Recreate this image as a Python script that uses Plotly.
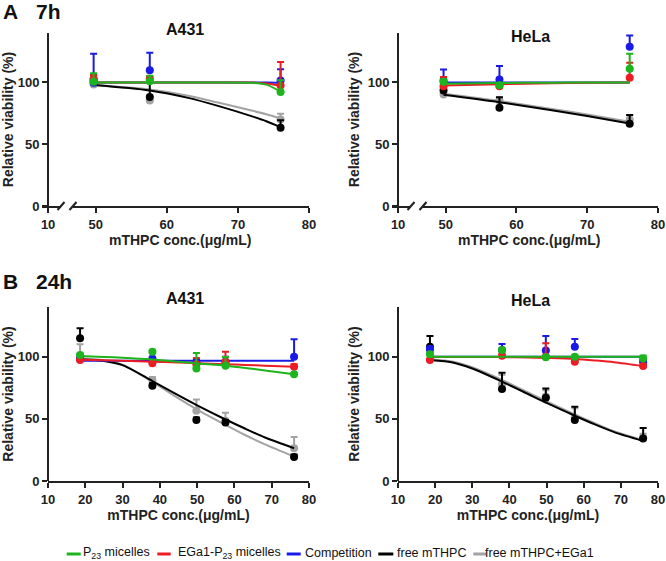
import plotly.graph_objects as go

FIG_W, FIG_H = 666, 561
FONT = "Liberation Sans, Arial, sans-serif"
AXIS_COLOR = "#222222"

series_names = ["P<sub>23</sub> micelles", "EGa1-P<sub>23</sub> micelles", "Competition",
                "free mTHPC", "free mTHPC+EGa1"]
series_colors = ["#1DB41D", "#EC1C24", "#1A1AE6", "#000000", "#A3A3A3"]
draw_order = [4, 3, 2, 1, 0]

x_ticks_7h = [50, 60, 70, 80]
x_ticks_24h = [10, 20, 30, 40, 50, 60, 70, 80]
y_ticks = [0, 50, 100]

x_7h = [49.7, 57.6, 76.0]
x_24h = [18.6, 38.0, 49.8, 57.6, 76.0]

# series order: P23, EGa1-P23, Competition, free mTHPC, free mTHPC+EGa1
a431_7h_mean = [[100.5, 101.0, 92.2], [103.0, 103.0, 97.5], [99.8, 109.8, 101.6],
                [102.0, 88.2, 63.3], [98.4, 85.4, 70.0]]
a431_7h_err = [[7.0, 4.5, 9.5], [3.0, 2.0, 19.0], [23.5, 14.2, 9.0],
               [4.0, 11.6, 6.0], [3.0, 3.0, 4.6]]
a431_7h_fit_x = [49.7, 57.6, 63.0, 67.2, 71.9, 74.0, 76.0]
a431_7h_fit = [[100.0, 100.0, 100.0, 100.0, 99.7, 98.2, 92.5],
               [100.0, 100.0, 100.0, 100.0, 99.9, 99.2, 97.3],
               [100.0, 100.0, 100.0, 100.0, 100.0, 100.0, 99.8],
               [97.9, 93.5, 87.5, 81.0, 72.7, 68.6, 63.8],
               [97.9, 94.3, 89.3, 83.7, 77.3, 74.2, 70.8]]

hela_7h_mean = [[100.6, 97.8, 111.0], [97.0, 97.0, 103.8], [101.6, 102.4, 128.9],
                [93.5, 79.5, 66.6], [90.3, 85.4, 70.1]]
hela_7h_err = [[2.0, 2.0, 12.2], [7.3, 1.5, 12.2], [8.9, 10.8, 9.1],
               [2.0, 8.6, 7.0], [2.0, 2.5, 3.5]]
hela_7h_fit_x = [49.7, 57.6, 65.0, 70.0, 76.0]
hela_7h_fit = [[99.0, 99.5, 99.8, 99.9, 100.0],
               [97.5, 98.5, 99.3, 99.7, 100.0],
               [100.0, 100.0, 100.0, 100.0, 100.0],
               [90.0, 84.0, 77.5, 72.8, 66.8],
               [90.8, 85.0, 78.6, 74.0, 68.2]]

a431_24h_mean = [[101.4, 104.0, 90.6, 92.7, 85.8], [97.3, 94.7, 94.0, 96.0, 92.0],
                 [98.6, 98.6, 95.5, 96.0, 100.0], [114.8, 76.6, 49.0, 47.0, 19.4],
                 [101.0, 81.2, 56.5, 48.5, 26.4]]
a431_24h_err = [[1.0, 1.0, 12.4, 7.0, 1.0], [1.0, 1.0, 5.0, 8.0, 2.0],
                [1.0, 1.0, 2.0, 4.0, 14.0], [8.1, 2.0, 2.0, 2.0, 2.0],
                [9.0, 2.5, 9.1, 6.5, 9.1]]
fit_x_24h = [18.6, 25.0, 30.0, 38.0, 45.0, 50.0, 57.6, 63.0, 68.2, 76.0]
a431_24h_fit = [[100.6, 99.8, 99.2, 97.8, 96.0, 94.6, 92.8, 91.0, 89.0, 85.8],
                [97.5, 97.2, 96.8, 96.0, 95.3, 94.8, 94.0, 93.4, 92.8, 92.0],
                [96.8, 96.8, 96.8, 96.8, 96.8, 96.8, 96.8, 96.8, 96.8, 96.8],
                [97.9, 96.6, 93.2, 80.4, 68.8, 60.8, 49.5, 42.0, 35.0, 26.4],
                [98.5, 97.2, 93.5, 79.8, 66.5, 57.5, 45.2, 36.8, 29.5, 19.8]]

hela_24h_mean = [[101.9, 105.4, 99.5, 100.0, 98.5], [97.3, 100.8, 100.0, 96.0, 92.5],
                 [106.2, 105.4, 105.0, 108.0, 96.0], [108.0, 74.0, 67.0, 49.0, 34.2],
                 [104.0, 78.0, 68.0, 51.0, 35.0]]
hela_24h_err = [[1.0, 1.0, 1.0, 1.0, 2.5], [1.0, 1.0, 10.8, 1.0, 1.0],
                [2.0, 4.8, 11.7, 6.3, 2.0], [8.7, 13.0, 7.5, 10.7, 8.5],
                [3.0, 7.4, 5.0, 7.6, 3.0]]
hela_24h_fit = [[100.0, 100.0, 100.0, 100.0, 100.0, 100.0, 100.0, 100.0, 100.0, 100.0],
                [99.8, 99.8, 99.8, 99.7, 99.4, 99.0, 98.2, 97.0, 95.6, 92.5],
                [100.0, 100.0, 100.0, 100.0, 100.0, 100.0, 100.0, 100.0, 100.0, 100.0],
                [97.3, 95.2, 90.5, 80.0, 70.0, 62.8, 52.5, 45.5, 39.3, 32.2],
                [98.0, 96.0, 91.5, 81.3, 71.3, 64.0, 53.6, 46.5, 40.0, 32.8]]


def fx(p):
    return p / FIG_W


def fy(p):
    return 1 - p / FIG_H


def bold_ticks(vals):
    return ["<b>%d</b>" % v for v in vals]


panels = [
    dict(title="A431", x=x_7h, mean=a431_7h_mean, err=a431_7h_err, fx_=a431_7h_fit_x,
         fit=a431_7h_fit, left=48, right=309, top=33, bottom=206, broken=True,
         xr=[46.8, 80], ticks=x_ticks_7h, title_xy=(185, 29), xid="x", yid="y", stub="x5"),
    dict(title="HeLa", x=x_7h, mean=hela_7h_mean, err=hela_7h_err, fx_=hela_7h_fit_x,
         fit=hela_7h_fit, left=398, right=658, top=33, bottom=206, broken=True,
         xr=[46.8, 80], ticks=x_ticks_7h, title_xy=(530, 36), xid="x2", yid="y2", stub="x6"),
    dict(title="A431", x=x_24h, mean=a431_24h_mean, err=a431_24h_err, fx_=fit_x_24h,
         fit=a431_24h_fit, left=48, right=309, top=307, bottom=481, broken=False,
         xr=[10, 80], ticks=x_ticks_24h, title_xy=(185, 298), xid="x3", yid="y3", stub=None),
    dict(title="HeLa", x=x_24h, mean=hela_24h_mean, err=hela_24h_err, fx_=fit_x_24h,
         fit=hela_24h_fit, left=398, right=658, top=307, bottom=481, broken=False,
         xr=[10, 80], ticks=x_ticks_24h, title_xy=(530, 300), xid="x4", yid="y4", stub=None),
]

fig = go.Figure()

axis_common = dict(showline=True, linecolor=AXIS_COLOR, linewidth=2, ticks="outside",
                   ticklen=5, tickwidth=2, tickcolor=AXIS_COLOR, showgrid=False,
                   zeroline=False, fixedrange=True, automargin=False,
                   ticklabeloverflow="allow",
                   tickfont=dict(family=FONT, size=13, color=AXIS_COLOR))
title_font = dict(family=FONT, size=14, color=AXIS_COLOR, weight="bold")

annotations = []
shapes = []
layout_axes = {}

for p in panels:
    for si in draw_order:
        col = series_colors[si]
        fig.add_trace(go.Scatter(
            x=p["fx_"], y=p["fit"][si], mode="lines", xaxis=p["xid"], yaxis=p["yid"],
            line=dict(color=col, width=2, shape="spline", smoothing=0.8),
            showlegend=False, hoverinfo="skip"))
        fig.add_trace(go.Scatter(
            x=p["x"], y=p["mean"][si], mode="markers", xaxis=p["xid"], yaxis=p["yid"],
            marker=dict(color=col, size=8, line=dict(width=0)),
            error_y=dict(type="data", symmetric=False, array=p["err"][si],
                         arrayminus=[0] * len(p["x"]), width=3.5, thickness=2, color=col),
            showlegend=False, name=series_names[si]))

    xkey = "xaxis" + p["xid"][1:]
    ykey = "yaxis" + p["yid"][1:]
    main_left = p["left"] + 25 if p["broken"] else p["left"]
    xa = dict(axis_common, domain=[fx(main_left), fx(p["right"])], range=p["xr"],
              tickvals=p["ticks"], ticktext=bold_ticks(p["ticks"]), anchor=p["yid"])
    if not p["broken"]:
        xa["title"] = dict(text="mTHPC conc.(\u03bcg/mL)", font=title_font, standoff=2)
    layout_axes[xkey] = xa
    layout_axes[ykey] = dict(axis_common, domain=[fy(p["bottom"]), fy(p["top"])],
                             range=[0, 140], tickvals=y_ticks, ticktext=bold_ticks(y_ticks),
                             anchor="free", position=fx(p["left"]),
                             title=dict(text="Relative viability (%)", font=title_font,
                                        standoff=4))
    if p["broken"]:
        # empty trace so that the short first segment of the broken axis gets its own subplot
        fig.add_trace(go.Scatter(x=[], y=[], mode="lines", xaxis=p["stub"], yaxis=p["yid"],
                                 showlegend=False, hoverinfo="skip"))
        skey = "xaxis" + p["stub"][1:]
        layout_axes[skey] = dict(axis_common, domain=[fx(p["left"] - 6), fx(p["left"] + 13)],
                                 range=[9.05, 12], tickvals=[10], ticktext=bold_ticks([10]),
                                 anchor=p["yid"])
        for c in (p["left"] + 13, p["left"] + 25):
            shapes.append(dict(type="line", xref="paper", yref="paper",
                               x0=fx(c - 3.5), y0=fy(p["bottom"] + 4),
                               x1=fx(c + 3.5), y1=fy(p["bottom"] - 4),
                               line=dict(color=AXIS_COLOR, width=2)))
        annotations.append(dict(text="mTHPC conc.(\u03bcg/mL)", xref="paper", yref="paper",
                                x=fx((p["left"] + p["right"]) / 2 + 1), y=fy(240),
                                xanchor="center", yanchor="middle", showarrow=False,
                                font=title_font))
    annotations.append(dict(text=p["title"], xref="paper", yref="paper",
                            x=fx(p["title_xy"][0]), y=fy(p["title_xy"][1]),
                            xanchor="center", yanchor="middle", showarrow=False,
                            font=dict(family=FONT, size=16, color="#111111", weight="bold")))

# panel labels
for txt, xp, yp in [("A", 1, 11), ("7h", 34, 11), ("B", 1, 281), ("24h", 34, 281)]:
    annotations.append(dict(text=txt, xref="paper", yref="paper", x=fx(xp), y=fy(yp),
                            xanchor="left", yanchor="middle", showarrow=False,
                            font=dict(family=FONT, size=21, color="#111111", weight="bold")))

# legend
legend_line_px = [(66.7, 80.7), (157.3, 170.7), (286.7, 300.7), (378.3, 393.3), (473.3, 486.7)]
legend_text_px = [81, 176, 303, 395, 483]
legend_y = 553
for i in range(5):
    x0, x1 = legend_line_px[i]
    shapes.append(dict(type="line", xref="paper", yref="paper", x0=fx(x0), x1=fx(x1),
                       y0=fy(legend_y + 1), y1=fy(legend_y + 1),
                       line=dict(color=series_colors[i], width=3)))
    annotations.append(dict(text=series_names[i], xref="paper", yref="paper",
                            x=fx(legend_text_px[i]), y=fy(legend_y), xanchor="left",
                            yanchor="middle", showarrow=False,
                            font=dict(family=FONT, size=12.5, color="#111111")))

fig.update_layout(
    width=FIG_W, height=FIG_H, margin=dict(l=0, r=0, t=0, b=0),
    paper_bgcolor="white", plot_bgcolor="white", showlegend=False,
    annotations=annotations, shapes=shapes, **layout_axes)

fig.write_html("out.html", config={"displayModeBar": False},
               post_script="document.body.style.margin='0';"
                           "document.body.style.overflow='hidden';")
